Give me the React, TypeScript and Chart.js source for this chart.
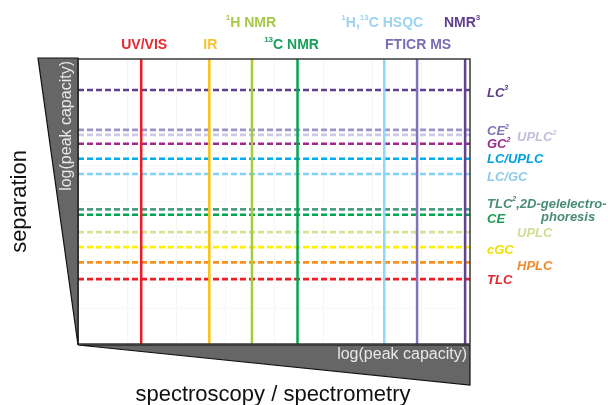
import React, { useEffect, useRef } from "react";
import { Chart, registerables } from "chart.js";

Chart.register(...registerables);

// Detection techniques: vertical solid lines at their log(peak capacity).
// Text inside {} is drawn as a superscript.
const detectorNames = ["UV/VIS", "IR", "{1}H NMR", "{13}C NMR", "{1}H,{13}C HSQC", "FTICR MS", "NMR{3}"];
const detectorCapacity = [1.29, 2.68, 3.55, 4.48, 6.25, 6.92, 7.9];
const detectorLineColors = ["#ee1c25", "#fcc10f", "#a3cd3b", "#00a651", "#8fd8f8", "#8073b7", "#61428f"];
const detectorTextColors = ["#e8262f", "#f7c12f", "#a6c948", "#17a05a", "#9bd3ef", "#7a6db3", "#5e3e8e"];

// Separation techniques: horizontal dashed lines at their log(peak capacity).
const separationNames = [
  "LC{3}", "CE{2}", "UPLC{2}", "GC{2}", "LC/UPLC", "LC/GC",
  "TLC{2},2D-gelelectro-|phoresis", "CE", "UPLC", "cGC", "HPLC", "TLC",
];
const separationCapacity = [7.13, 6.01, 5.87, 5.62, 5.2, 4.77, 3.78, 3.63, 3.14, 2.72, 2.29, 1.82];
const separationLineColors = [
  "#613f8f", "#9d94c7", "#cdc8e4", "#a1278f", "#00aeef", "#80d3f7",
  "#4f9c84", "#00a651", "#d5e196", "#fff200", "#f7921e", "#ee1c25",
];
const separationTextColors = [
  "#5b3b8a", "#7f73b5", "#c4bedd", "#9c2a8c", "#00a0e0", "#8ecbea",
  "#4a8c73", "#1e9c55", "#cfdc92", "#efe000", "#f18a2a", "#e3262d",
];

const axisMin = 0;
const axisMax = 8;

// Label placement (styling only)
const detectorLabelRow = [1, 1, 0, 1, 0, 1, 0];
const detectorLabelDx = [3, 1, -1, -6, -2, 1, -3];
const separationLabelCol = [0, 0, 1, 0, 0, 0, 0, 0, 1, 0, 1, 0];
const separationLabelDy = [3, 2, 3, 1, 1, 3, -5, 5, 1, 3, 4, 1];

const FONT = "'Liberation Sans', Arial, sans-serif";

type Seg = { t: string; sup: boolean };
function parseRich(s: string): Seg[] {
  const out: Seg[] = [];
  const parts = s.split(/\{([^}]*)\}/);
  parts.forEach((p, i) => {
    if (p) out.push({ t: p, sup: i % 2 === 1 });
  });
  return out;
}

function drawRich(
  ctx: CanvasRenderingContext2D,
  text: string,
  x: number,
  y: number,
  size: number,
  style: string,
  align: "left" | "center"
) {
  const segs = parseRich(text);
  const main = `${style} ${size}px ${FONT}`;
  const sup = `${style} ${Math.round(size * 0.56)}px ${FONT}`;
  let w = 0;
  segs.forEach((s) => {
    ctx.font = s.sup ? sup : main;
    w += ctx.measureText(s.t).width;
  });
  let cx = align === "center" ? x - w / 2 : x;
  ctx.textAlign = "left";
  ctx.textBaseline = "middle";
  segs.forEach((s) => {
    ctx.font = s.sup ? sup : main;
    ctx.fillText(s.t, cx, s.sup ? y - size * 0.4 : y);
    cx += ctx.measureText(s.t).width;
  });
}

const decorations = {
  id: "decorations",
  afterDraw(chart: any) {
    const { ctx, chartArea } = chart;
    const { left, right, top, bottom } = chartArea;
    const xs = chart.scales.x;
    const ys = chart.scales.y;
    ctx.save();

    // plot frame
    ctx.strokeStyle = "#3a3a3a";
    ctx.lineWidth = 1.5;
    ctx.strokeRect(left, top, right - left, bottom - top);

    // left wedge
    ctx.fillStyle = "#666666";
    ctx.strokeStyle = "#111";
    ctx.lineWidth = 1.2;
    ctx.beginPath();
    ctx.moveTo(left - 40, top - 1);
    ctx.lineTo(left, top - 1);
    ctx.lineTo(left, bottom + 1);
    ctx.closePath();
    ctx.fill();
    ctx.stroke();

    // bottom wedge
    ctx.beginPath();
    ctx.moveTo(left, bottom + 1);
    ctx.lineTo(right, bottom + 1);
    ctx.lineTo(right, bottom + 41);
    ctx.closePath();
    ctx.fill();
    ctx.stroke();

    // wedge captions
    ctx.fillStyle = "#e8e8e8";
    ctx.font = `16px ${FONT}`;
    ctx.textBaseline = "middle";
    ctx.textAlign = "right";
    ctx.fillText("log(peak capacity)", right - 3, bottom + 11);
    ctx.save();
    ctx.translate(left - 11, top + 2);
    ctx.rotate(-Math.PI / 2);
    ctx.fillText("log(peak capacity)", 0, 0);
    ctx.restore();

    // axis titles
    ctx.fillStyle = "#111";
    ctx.font = `22px ${FONT}`;
    ctx.textAlign = "center";
    ctx.textBaseline = "alphabetic";
    ctx.fillText("spectroscopy / spectrometry", (left + right) / 2 - 1, bottom + 57);
    ctx.save();
    ctx.translate(26, (top + bottom) / 2 + 0);
    ctx.rotate(-Math.PI / 2);
    ctx.fillText("separation", 0, 0);
    ctx.restore();

    // detector labels above the plot
    detectorNames.forEach((name, i) => {
      const px = xs.getPixelForValue(detectorCapacity[i]) + detectorLabelDx[i];
      const py = detectorLabelRow[i] === 0 ? top - 36 : top - 14;
      ctx.fillStyle = detectorTextColors[i];
      drawRich(ctx, name, px, py, 14, "bold", "center");
    });

    // separation labels right of the plot
    separationNames.forEach((name, i) => {
      const py = ys.getPixelForValue(separationCapacity[i]) + separationLabelDy[i];
      const px = right + (separationLabelCol[i] === 0 ? 17 : 47);
      ctx.fillStyle = separationTextColors[i];
      const lines = name.split("|");
      drawRich(ctx, lines[0], px, py, 13, "italic bold", "left");
      if (lines[1]) drawRich(ctx, lines[1], px + 54, py + 13, 13, "italic bold", "left");
    });

    ctx.restore();
  },
};

export default function App() {
  const ref = useRef<HTMLCanvasElement>(null);

  useEffect(() => {
    const verticals = detectorCapacity.map((v, i) => ({
      data: [
        { x: v, y: axisMin },
        { x: v, y: axisMax },
      ],
      borderColor: detectorLineColors[i],
      borderWidth: 2.5,
      order: 0,
    }));
    const horizontals = separationCapacity.map((v, i) => ({
      data: [
        { x: axisMin, y: v },
        { x: axisMax, y: v },
      ],
      borderColor: separationLineColors[i],
      borderWidth: 2.6,
      borderDash: [6, 3],
      order: 1,
    }));

    const chart = new Chart(ref.current!, {
      type: "scatter",
      data: { datasets: [...verticals, ...horizontals] as any },
      options: {
        responsive: false,
        animation: false,
        events: [],
        showLine: true,
        elements: { point: { radius: 0 }, line: { tension: 0, borderCapStyle: "butt" } },
        layout: { padding: { left: 78, right: 138, top: 59, bottom: 61 } },
        scales: {
          x: {
            type: "linear",
            min: axisMin,
            max: axisMax,
            ticks: { display: false, stepSize: 1 },
            grid: { color: "#f5f5f5", drawTicks: false, tickLength: 0 },
            border: { display: false },
          },
          y: {
            type: "linear",
            min: axisMin,
            max: axisMax,
            ticks: { display: false, stepSize: 1 },
            grid: { color: "#f8f8f8", drawTicks: false, tickLength: 0 },
            border: { display: false },
          },
        },
        plugins: { legend: { display: false }, tooltip: { enabled: false } },
      } as any,
      plugins: [decorations],
    });
    return () => chart.destroy();
  }, []);

  return (
    <div style={{ position: "fixed", left: 0, top: 0, width: 608, height: 405, background: "#fff" }}>
      <canvas ref={ref} width={608} height={405} />
    </div>
  );
}
